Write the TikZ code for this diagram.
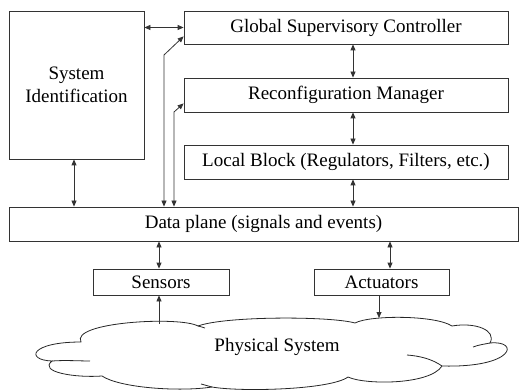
\documentclass[tikz,border=0pt]{standalone}
\usepackage{fontspec}
\setmainfont{Liberation Serif}
\usetikzlibrary{arrows.meta}
\begin{document}
\begin{tikzpicture}[x=1pt,y=-1pt,
  box/.style={draw=black!80, line width=0.8pt, inner sep=0pt, align=center,
    font=\fontsize{19}{23}\selectfont},
  lbl/.style={inner sep=0pt, font=\fontsize{19}{23}\selectfont},
  arr/.style={draw=black!80, line width=0.8pt,
    {Triangle[length=6pt,width=5pt]}-{Triangle[length=6pt,width=5pt]}},
  sarr/.style={draw=black!80, line width=0.8pt, -{Triangle[length=6pt,width=5pt]}},
  cloudline/.style={draw=black!85, line width=0.8pt}]
\useasboundingbox (0,0) rectangle (519,390);

% boxes
\node[box, minimum width=135pt, minimum height=148pt] (sid) at (76.5,85) {System\\Identification};
\node[box, minimum width=324pt, minimum height=33pt] (gsc) at (346,27.5) {Global Supervisory Controller};
\node[box, minimum width=324pt, minimum height=34pt] (rm) at (346,95) {Reconfiguration Manager};
\node[box, minimum width=324pt, minimum height=34pt] (lb) at (346,162) {Local Block (Regulators, Filters, etc.)};
\node[box, minimum width=509pt, minimum height=34pt] (dp) at (263.5,224) {Data plane (signals and events)};
\node[box, minimum width=136pt, minimum height=26pt] (sen) at (161,282) {Sensors};
\node[box, minimum width=135pt, minimum height=26pt] (act) at (381.5,282) {Actuators};

% cloud
\draw[cloudline]
  (81,342) .. controls (70,322) and (180,316) .. (198,326)
  .. controls (225,316) and (330,316) .. (355,323)
  .. controls (370,315) and (435,315) .. (452,326)
  .. controls (475,322) and (497,330) .. (490,343)
  .. controls (520,340) and (515,368) .. (442,366)
  .. controls (430,385) and (365,385) .. (348,377)
  .. controls (330,390) and (240,392) .. (212,387)
  .. controls (180,392) and (120,388) .. (102,376)
  .. controls (75,378) and (38,372) .. (52,361)
  .. controls (25,360) and (30,342) .. cycle;
\draw[cloudline] (52,361) .. controls (65,360) and (80,361) .. (90,361);
\draw[cloudline] (198,326) .. controls (200,326.5) and (202,327) .. (205,328);
\draw[cloudline] (490,343) .. controls (485,344) and (478,345) .. (473,347);
\draw[cloudline] (442,366) .. controls (432,359) and (420,356) .. (407,355);
\draw[cloudline] (212,387) .. controls (208,386) and (205,385) .. (201,384);
\node[lbl] (phys) at (277,347) {Physical System};

% connectors
\coordinate (k1) at (164,55);
\coordinate (k2) at (174,112);
\coordinate (c1) at (159,324);
\coordinate (c2) at (379,318);
\draw[arr] (sid.east |- gsc.west) -- (gsc.west);
\draw[arr] ([xshift=7pt]gsc.south) -- ([xshift=7pt]rm.north);
\draw[arr] ([xshift=7pt]rm.south) -- ([xshift=7pt]lb.north);
\draw[arr] ([xshift=7pt]lb.south) -- ([xshift=7pt]lb.south |- dp.north);
\draw[arr] ([xshift=-2.5pt]sid.south) -- ([xshift=-2.5pt]sid.south |- dp.north);
\draw[arr] (dp.north -| k1) -- (k1) -- ([yshift=8pt]gsc.south west);
\draw[arr] (dp.north -| k2) -- (k2) -- ([yshift=9pt]rm.south west);
\draw[arr] (dp.south -| c1) -- (c1 |- sen.north);
\draw[arr] ([xshift=8.5pt]act.north |- dp.south) -- ([xshift=8.5pt]act.north);
\draw[sarr] (c1) -- (c1 |- sen.south);
\draw[sarr] (c2 |- act.south) -- (c2);
\end{tikzpicture}
\end{document}
